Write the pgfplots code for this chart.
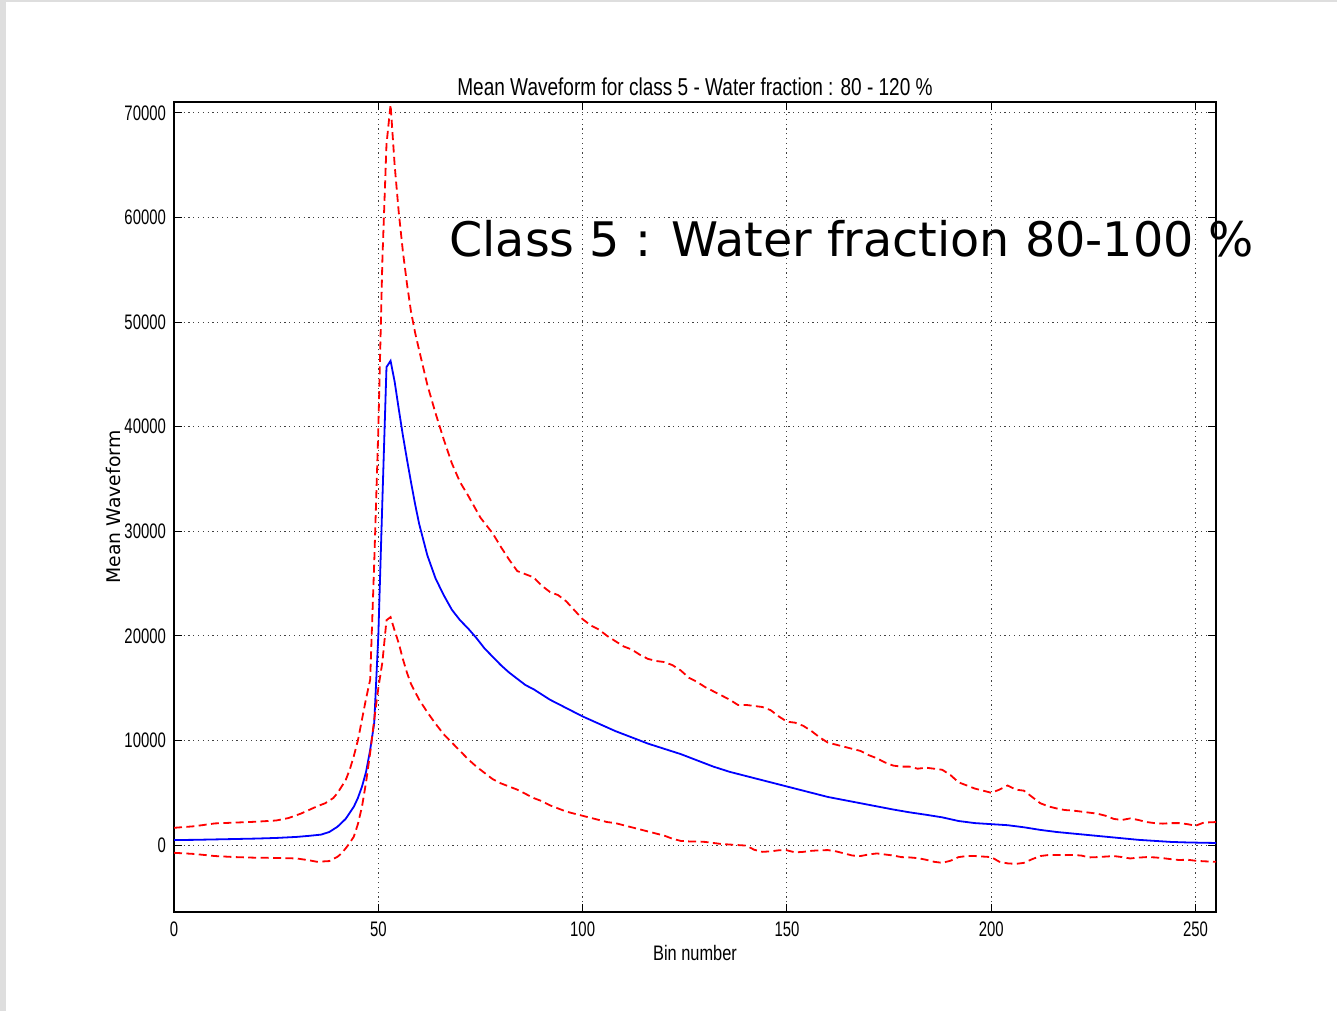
\documentclass[border=0pt]{standalone}
\usepackage{fontspec}
\setmainfont{DejaVu Sans}
\newfontfamily\condfont[FakeStretch=0.78]{Liberation Sans}
\newfontfamily\tickfont[FakeStretch=0.71]{Liberation Sans}
\usepackage{pgfplots}
\pgfplotsset{compat=1.18}
\pgfplotstableread{
x y
0 480
5 500
10 540
15 580
20 620
25 680
30 780
33 880
36 1000
38 1250
40 1750
42 2500
44 3660
45 4500
46 5580
47 7000
48 9080
49 11670
50 20000
51 33000
52 45700
53 46300
54 44300
55 41700
56 39200
57 36900
58 34700
59 32600
60 30700
62 27700
64 25500
66 23900
68 22500
70 21500
72 20700
74 19800
76 18800
78 18000
80 17200
82 16500
84 15900
86 15300
88 14900
90 14400
92 13900
94 13500
96 13100
98 12700
100 12300
104 11600
108 10900
112 10300
116 9700
120 9200
124 8700
128 8100
132 7500
136 7000
140 6600
144 6200
148 5800
152 5400
156 5000
160 4600
164 4300
168 4000
172 3700
176 3400
180 3130
184 2900
188 2650
192 2300
196 2100
200 2000
204 1900
208 1700
212 1450
216 1250
220 1100
224 950
228 800
232 650
236 500
240 400
244 300
248 250
252 220
255 200
}\meanwf
\pgfplotstableread{
x y
0 1650
5 1800
10 2070
15 2150
20 2230
25 2350
28 2580
31 3000
33 3350
35 3700
37 4000
39 4500
40 4970
42 6200
43 7200
44 8500
45 10000
46 12000
47 14000
48 15800
49 27000
50 39700
51 56000
52 67000
53 70800
54 65000
55 60500
56 56800
57 53700
58 51000
59 49000
60 47300
62 44000
64 41300
66 38800
68 36500
70 34700
72 33400
75 31300
78 29800
80 28500
82 27300
84 26200
86 25900
88 25600
90 24800
92 24200
94 23900
96 23300
100 21600
102 21000
104 20600
106 20000
108 19500
110 19000
112 18700
114 18200
116 17800
118 17600
120 17500
122 17200
124 16700
126 16000
128 15600
130 15100
132 14700
134 14300
136 13900
138 13400
140 13400
142 13300
144 13200
146 12900
148 12300
150 11800
152 11700
154 11400
156 10900
158 10300
160 9800
162 9600
164 9400
166 9200
168 9000
170 8600
172 8300
174 7900
176 7600
178 7500
180 7500
182 7300
184 7400
186 7300
188 7200
190 6700
192 6000
194 5700
196 5400
198 5200
200 5000
202 5300
204 5700
206 5300
208 5200
210 4600
212 4000
214 3700
216 3500
218 3350
220 3300
222 3200
224 3100
226 3000
228 2800
230 2500
232 2400
234 2550
236 2400
238 2200
240 2100
242 2050
244 2100
246 2100
248 2000
250 1850
252 2150
255 2200
}\upperwf
\pgfplotstableread{
x y
0 -740
5 -850
10 -1050
15 -1150
20 -1210
25 -1230
30 -1280
33 -1450
35 -1600
38 -1530
40 -1120
41 -800
42 -320
43 200
44 800
45 2000
46 3660
47 6000
48 8800
49 12000
50 15000
51 17500
52 21500
53 21800
54 20500
55 19300
56 17800
57 16500
58 15400
60 13900
62 12700
64 11600
66 10600
68 9800
70 9000
72 8200
74 7500
76 6900
78 6300
80 5900
82 5600
84 5300
86 4900
88 4500
90 4200
92 3800
94 3500
96 3200
98 3000
100 2800
102 2600
104 2400
106 2200
108 2100
110 1900
112 1700
114 1500
116 1300
118 1100
120 900
122 600
124 400
126 350
128 350
130 300
132 200
134 100
136 50
138 0
140 -50
142 -450
144 -650
146 -600
148 -500
150 -500
152 -700
154 -650
156 -550
158 -500
160 -480
162 -600
164 -800
166 -1000
168 -1050
170 -900
172 -800
174 -900
176 -1000
178 -1150
180 -1180
182 -1250
184 -1400
186 -1600
188 -1700
190 -1500
192 -1150
194 -1050
196 -1050
198 -1100
200 -1150
202 -1600
204 -1750
206 -1800
208 -1700
210 -1350
212 -1050
214 -950
216 -950
218 -960
220 -950
222 -1000
224 -1180
226 -1150
228 -1100
230 -1050
232 -1150
234 -1280
236 -1200
238 -1150
240 -1180
242 -1250
244 -1350
246 -1430
248 -1400
250 -1500
252 -1550
255 -1600
}\lowerwf
\begin{document}
\begin{tikzpicture}
\fill[white] (0pt,0pt) rectangle (668.5pt,505.5pt);
\fill[black!13] (0pt,0pt) rectangle (2.8pt,505.5pt);
\fill[black!13] (0pt,504.5pt) rectangle (668.5pt,505.5pt);
\begin{axis}[
  at={(87pt,49.5pt)}, anchor=south west,
  scale only axis, width=521pt, height=405pt,
  xmin=0, xmax=255, ymin=-6400, ymax=71050,
  xtick={0,50,100,150,200,250},
  ytick={0,10000,20000,30000,40000,50000,60000,70000},
  scaled y ticks=false,
  /pgf/number format/1000 sep={},
  /pgf/number format/assume math mode=true,
  tick align=inside, major tick length=4pt,
  xtick pos=both, ytick pos=both,
  tick style={black, line width=0.5pt},
  axis line style={black, line width=0.8pt},
  grid=major,
  major grid style={black!75, line width=0.5pt, dash pattern=on 0.6pt off 1.8pt},
  ticklabel style={font=\tickfont\fontsize{10.5}{12}\selectfont},
  xticklabel style={yshift=-1.5pt},
  yticklabel style={xshift=-0.5pt},
  title={Mean Waveform for class 5 - Water fraction : 80 - 120 \%},
  title style={font=\condfont\fontsize{12.2}{14}\selectfont, at={(axis description cs:0.5,1)}, anchor=south, yshift=-6.5pt},
  xlabel={Bin number},
  xlabel style={font=\condfont\fontsize{10.5}{13}\selectfont, at={(axis description cs:0.5,0)}, anchor=north, yshift=-13pt},
  ylabel={Mean Waveform},
  ylabel style={font=\fontsize{9.4}{11}\selectfont, at={(axis description cs:-0.0585,0.5)}, anchor=center},
  clip mode=individual,
]
\addplot[blue, line width=0.9pt] table {\meanwf};
\addplot[red, line width=0.9pt, dash pattern=on 4pt off 2.2pt] table {\upperwf};
\addplot[red, line width=0.9pt, dash pattern=on 4pt off 2.2pt] table {\lowerwf};
\node[anchor=base west, inner sep=0pt, font=\fontsize{23.8}{28}\selectfont] at (axis cs:67.3,56230) {Class 5 : Water fraction 80-100 \%};
\end{axis}
\end{tikzpicture}
\end{document}
